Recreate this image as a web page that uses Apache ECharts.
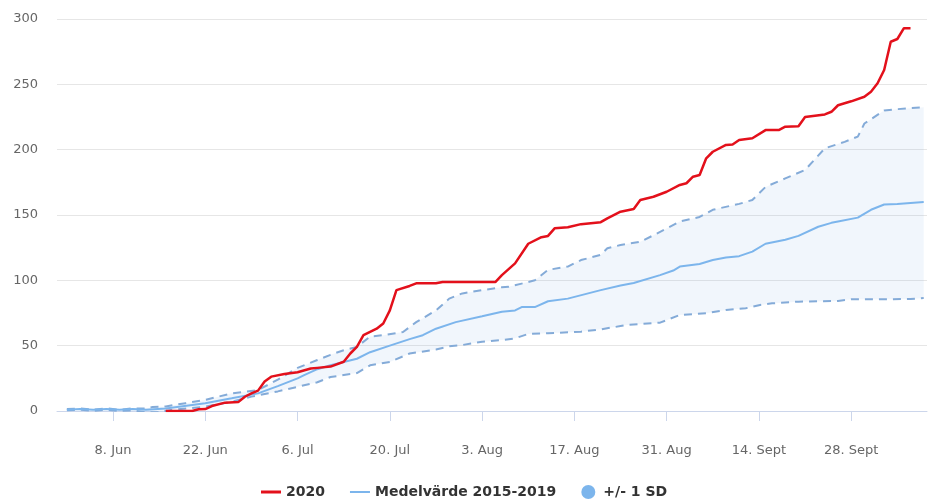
<!DOCTYPE html>
<html>
<head>
<meta charset="utf-8">
<script src="https://cdn.jsdelivr.net/npm/echarts@6/dist/echarts.min.js"></script>
<style>
html,body{margin:0;padding:0;background:#fff;}
#chart{width:930px;height:502px;}
</style>
</head>
<body>
<div id="chart"></div>
<script>
// ---- axis definition ----
const firstDay = '2020-05-31';
const lastDay = '2020-10-09';
const tickDates = ['06-08','06-22','07-06','07-20','08-03','08-17','08-31','09-14','09-28'];
const tickLabels = ['8. Jun','22. Jun','6. Jul','20. Jul','3. Aug','17. Aug','31. Aug','14. Sept','28. Sept'];
const yTicks = [0, 50, 100, 150, 200, 250, 300];

// ---- series values ----
const redDates = ['06-16','06-20','06-21','06-22','06-23','06-25','06-27','06-28','06-29','06-30',
  '07-01','07-02','07-04','07-06','07-08','07-09','07-11','07-13','07-14','07-15','07-16','07-18','07-19','07-20','07-21','07-23','07-24','07-27','07-28',
  '08-05','08-06','08-08','08-10','08-12','08-13','08-14','08-16','08-18','08-21','08-22','08-24','08-26','08-27','08-29','08-31',
  '09-02','09-03','09-04','09-05','09-06','09-07','09-09','09-10','09-11','09-13','09-15','09-17','09-18','09-20','09-21','09-24','09-25','09-26','09-28','09-30',
  '10-01','10-02','10-03','10-04','10-05','10-06','10-07'];
const redValues = [0,0,1.3,1.5,3.8,6.4,6.8,10.9,13.5,15.6,
  22.5,26.3,28.3,29.6,32.5,33,34,37.7,44,49,58,63,67,77,92.5,95.7,97.7,97.7,98.7,
  98.7,104,113,128,133,134,139.8,140.6,143,144.5,147.4,152.5,154.6,161.5,164,167.8,
  173,174.3,179.3,180.6,193.4,198.4,203.6,204,207.4,208.7,215,215,217.6,218,225,227,229,234,237,240.5,
  244.4,250.8,261,282.6,284.7,293,293];

const meanDates = ['06-01','06-03','06-05','06-07','06-09','06-11','06-13','06-16','06-22','06-26','06-30',
  '07-03','07-06','07-07','07-09','07-11','07-13','07-15','07-17','07-20','07-23','07-25','07-27','07-30',
  '08-03','08-06','08-08','08-09','08-11','08-13','08-16','08-21','08-24','08-26','08-30',
  '09-01','09-02','09-05','09-07','09-09','09-11','09-13','09-15','09-18','09-20','09-23','09-25','09-26','09-29',
  '10-01','10-03','10-05','10-09'];
const meanValues = [1,1.5,1,1.5,1,1.5,1,2,6,9.7,13.5,
  19,25,27.5,32,35,37.5,40,45,50,55,58,63,68,
  72.5,76,77,79.5,79.5,84,86,92.5,96,98,104,
  107.5,110.5,112.5,115.5,117.5,118.5,122,128,131,134,141,144,145,148,
  154,158,158.5,160];

const upperDates = ['06-01','06-03','06-05','06-07','06-09','06-11','06-13','06-14','06-16','06-19','06-22','06-26','06-30',
  '07-03','07-06','07-09','07-11','07-13','07-15','07-17','07-19','07-22','07-24','07-27','07-29','07-31',
  '08-03','08-06','08-07','08-09','08-11','08-13','08-16','08-18','08-21','08-22','08-24','08-27','08-29',
  '09-02','09-05','09-07','09-11','09-13','09-15','09-18','09-21','09-24','09-27','09-29','09-30',
  '10-03','10-05','10-09'];
const upperValues = [1.5,2,1,2,1,2,2,3,3.5,6,8.5,13.5,16,
  24,33,39,43,46.5,49,57,58,60.5,68,77,86,90,
  92.5,94.7,95,97.5,100,108,110.5,115.5,119.5,124.5,127,129.5,134.5,
  145,148.5,154,158.5,161.5,171.5,178,184.5,201,206,210,220,
  230,231,232.5];

const lowerDates = ['06-01','06-03','06-05','06-07','06-09','06-11','06-13','06-15','06-17','06-22','06-26','06-29',
  '07-03','07-06','07-09','07-11','07-13','07-15','07-17','07-20','07-23','07-27','07-29','07-31',
  '08-03','08-06','08-08','08-10','08-13','08-18','08-21','08-24','08-25','08-30',
  '09-02','09-06','09-09','09-12','09-14','09-16','09-20','09-26','09-28',
  '10-02','10-07','10-09'];
const lowerValues = [0.5,1,0,1,0,0.5,-1,-1,1,3.3,7,11,
  15,18.5,22,26,27.5,29,35,37.5,44,47,49.5,50.5,
  53,54.3,55.6,59,59.5,60.7,62.5,65,65.8,67.6,
  73.5,74.8,77.3,78.6,81,82.4,83.7,84.2,85.5,
  85.5,85.7,86.5];

// ---- build category axis (one category per day) ----
const categories = [];
{
  const d = new Date(firstDay + 'T00:00:00Z');
  const end = new Date(lastDay + 'T00:00:00Z');
  while (d <= end) {
    const mm = String(d.getUTCMonth() + 1).padStart(2, '0');
    const dd = String(d.getUTCDate()).padStart(2, '0');
    categories.push(mm + '-' + dd);
    d.setUTCDate(d.getUTCDate() + 1);
  }
}
const labelMap = {};
tickDates.forEach((t, i) => { labelMap[t] = tickLabels[i]; });
const isTick = (idx) => labelMap[categories[idx]] !== undefined;
const toData = (dates, vals) => dates.map((d, i) => [categories.indexOf(d), vals[i]]);

const upperData = toData(upperDates, upperValues);
const lowerData = toData(lowerDates, lowerValues);

const FONT = 'DejaVu Sans';
const chart = echarts.init(document.getElementById('chart'), null, {renderer: 'canvas'});
chart.setOption({
  animation: false,
  backgroundColor: '#ffffff',
  grid: {left: 57, right: 3, top: 19, bottom: 91, containLabel: false},
  xAxis: {
    type: 'category',
    data: categories,
    boundaryGap: true,
    offset: 21,
    axisLine: {show: true, lineStyle: {color: '#ccd6eb', width: 1}},
    axisTick: {show: true, alignWithLabel: true, length: 10, interval: (i) => isTick(i), lineStyle: {color: '#ccd6eb'}},
    axisLabel: {interval: (i) => isTick(i), formatter: (v) => labelMap[v] || '', color: '#666666', fontFamily: FONT, fontSize: 13, margin: 12},
    splitLine: {show: false}
  },
  yAxis: {
    type: 'value',
    min: yTicks[0], max: yTicks[yTicks.length - 1], interval: yTicks[1] - yTicks[0],
    axisLine: {show: false}, axisTick: {show: false},
    axisLabel: {color: '#666666', fontFamily: FONT, fontSize: 13, margin: 19},
    splitLine: {lineStyle: {color: '#e6e6e6', width: 1}}
  },
  legend: {
    left: 256, top: 480,
    itemWidth: 20, itemHeight: 14, itemGap: 25,
    textStyle: {fontFamily: FONT, fontSize: 14, fontWeight: 'bold', color: '#333333'},
    data: [
      {name: '2020', icon: 'path://M0,0L20,0L20,3L0,3Z', itemStyle: {color: '#e3101b'}},
      {name: 'Medelvärde 2015-2019', icon: 'path://M0,0L20,0L20,2L0,2Z', itemStyle: {color: '#7cb5ec'}},
      {name: '+/- 1 SD', icon: 'circle', itemStyle: {color: '#7cb5ec'}}
    ]
  },
  series: [
    {
      name: '+/- 1 SD',
      type: 'custom',
      z: 1,
      silent: true,
      data: [[0, 0]],
      encode: {x: 0, y: 1},
      itemStyle: {color: '#7cb5ec'},
      renderItem: function (params, api) {
        const pts = [];
        upperData.forEach(p => pts.push(api.coord(p)));
        for (let i = lowerData.length - 1; i >= 0; i--) pts.push(api.coord(lowerData[i]));
        return {type: 'polygon', shape: {points: pts}, style: {fill: 'rgba(124,170,225,0.11)'}};
      }
    },
    {
      name: 'upper', type: 'line', data: upperData, z: 2, symbol: 'none', silent: true,
      lineStyle: {color: '#84abd8', width: 2, type: [8, 6]}
    },
    {
      name: 'lower', type: 'line', data: lowerData, z: 2, symbol: 'none', silent: true,
      lineStyle: {color: '#84abd8', width: 2, type: [8, 6]}
    },
    {
      name: 'Medelvärde 2015-2019', type: 'line', data: toData(meanDates, meanValues), z: 3, symbol: 'none',
      lineStyle: {color: '#7cb5ec', width: 2}, itemStyle: {color: '#7cb5ec'}
    },
    {
      name: '2020', type: 'line', data: toData(redDates, redValues), z: 4, symbol: 'none',
      lineStyle: {color: '#e3101b', width: 2.5}, itemStyle: {color: '#e3101b'}
    }
  ]
});
</script>
</body>
</html>
